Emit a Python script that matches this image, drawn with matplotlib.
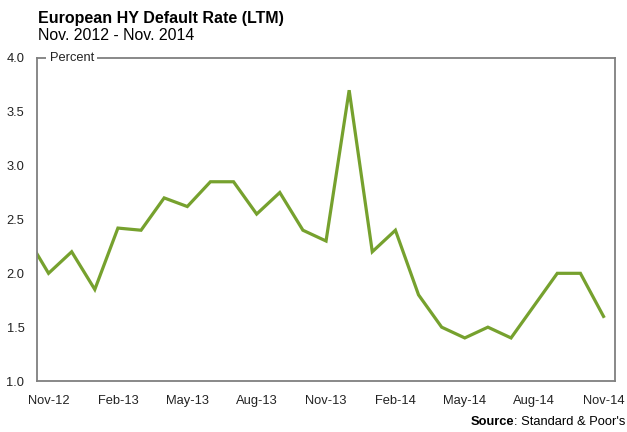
import matplotlib
matplotlib.use("Agg")
import matplotlib.pyplot as plt

plt.rcParams['font.family'] = ['Liberation Sans', 'DejaVu Sans']

# monthly default rate, Oct-12 .. Nov-14 (Oct-12 only feeds the clipped lead-in)
months = ['Oct-12', 'Nov-12', 'Dec-12', 'Jan-13', 'Feb-13', 'Mar-13', 'Apr-13', 'May-13',
          'Jun-13', 'Jul-13', 'Aug-13', 'Sep-13', 'Oct-13', 'Nov-13', 'Dec-13',
          'Jan-14', 'Feb-14', 'Mar-14', 'Apr-14', 'May-14', 'Jun-14', 'Jul-14',
          'Aug-14', 'Sep-14', 'Oct-14', 'Nov-14']
rate = [2.36, 2.0, 2.2, 1.85, 2.42, 2.4, 2.7, 2.62, 2.85, 2.85, 2.55, 2.75, 2.4, 2.3,
        3.7, 2.2, 2.4, 1.8, 1.5, 1.4, 1.5, 1.4, 1.7, 2.0, 2.0, 1.6]
tick_labels = ['Nov-12', 'Feb-13', 'May-13', 'Aug-13', 'Nov-13', 'Feb-14', 'May-14', 'Aug-14', 'Nov-14']
yticks = [1.0, 1.5, 2.0, 2.5, 3.0, 3.5, 4.0]

grey = '#7f7f7f'
green = '#76a12e'
fs = 9.3

fig = plt.figure(figsize=(6.27, 4.32), dpi=100)
ax = fig.add_axes([0.059, 0.118, 0.922, 0.748])

x = list(range(-1, len(rate) - 1))
ax.plot(x, rate, color=green, lw=2.3, solid_joinstyle='miter')

ax.set_xlim(-0.5, 24.5)
ax.set_ylim(1.0, 4.0)
ax.set_xticks([months.index(m) - 1 for m in tick_labels])
ax.set_xticklabels(tick_labels)
ax.set_yticks(yticks)
ax.set_yticklabels([f'{v:.1f}' for v in yticks])
ax.tick_params(length=0, labelsize=fs, colors='#222222', pad=10)
ax.tick_params(axis='y', pad=9)

for s in ax.spines.values():
    s.set_color(grey)
    s.set_linewidth(1.3)

ax.text(0.022, 1.0, 'Percent', transform=ax.transAxes, fontsize=fs, color='#222222',
        ha='left', va='center', zorder=5, clip_on=False,
        bbox=dict(facecolor='white', edgecolor='none', pad=2.5))

fig.text(0.06, 0.958, 'European HY Default Rate (LTM)', fontsize=11.5, fontweight='bold',
         ha='left', va='center')
fig.text(0.06, 0.918, 'Nov. 2012 - Nov. 2014', fontsize=11.4, ha='left', va='center')

src = fig.text(0.998, 0.024, ": Standard & Poor's", fontsize=fs, ha='right', va='center')
fig.canvas.draw()
bb = src.get_window_extent().transformed(fig.transFigure.inverted())
fig.text(bb.x0, 0.024, 'Source', fontsize=fs, fontweight='bold', ha='right', va='center')

fig.savefig('out.png', dpi=100)
